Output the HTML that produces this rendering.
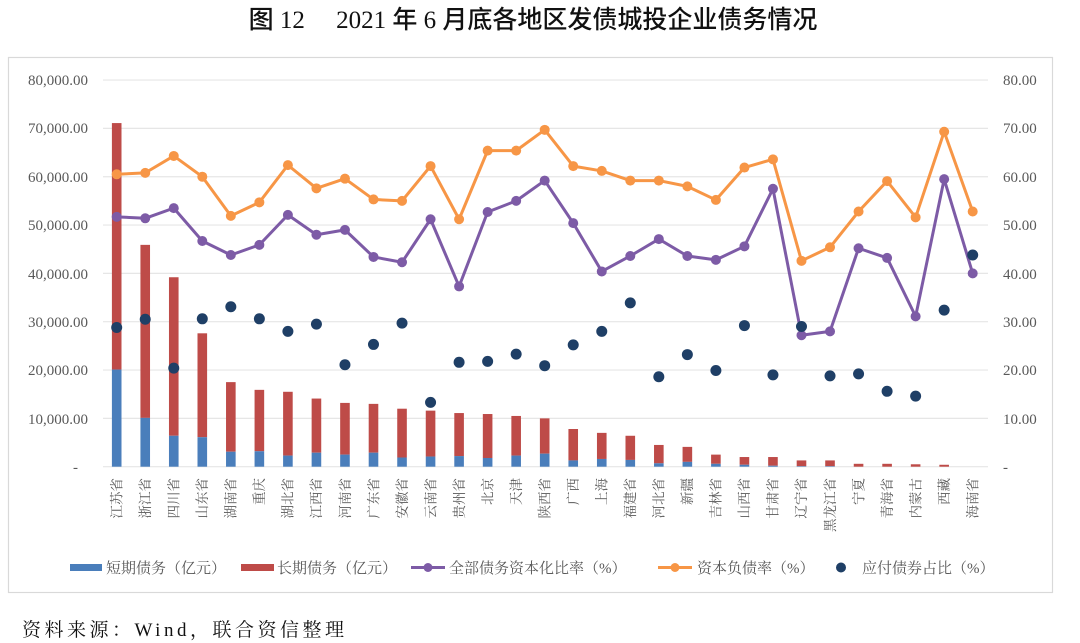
<!DOCTYPE html>
<html><head><meta charset="utf-8">
<style>
html,body{margin:0;padding:0;background:#fff;width:1080px;height:643px;overflow:hidden}
svg{display:block}
.ax{font-family:"Liberation Serif","Noto Serif CJK SC",serif;font-size:15px;fill:#595959}
.lb{font-family:"Liberation Serif","Noto Serif CJK SC",serif;font-size:13.5px;fill:#595959}
.lg{font-family:"Liberation Serif","Noto Serif CJK SC",serif;font-size:15px;fill:#595959}
</style></head><body>
<svg id="s" width="1080" height="643" xmlns="http://www.w3.org/2000/svg">
<text x="533" y="28" text-anchor="middle" style="font-family:'Liberation Serif','Noto Sans CJK SC',sans-serif;font-size:25px;font-weight:500;fill:#111">图 12　 2021 年 6 月底各地区发债城投企业债务情况</text>
<rect x="8.5" y="57.5" width="1044" height="535" fill="none" stroke="#d9d9d9" stroke-width="1.2"/>
<g id="grid"></g>
<g class="ax" text-anchor="end">
<text x="88" y="85">80,000.00</text><text x="88" y="133">70,000.00</text><text x="88" y="182">60,000.00</text><text x="88" y="230">50,000.00</text><text x="88" y="279">40,000.00</text><text x="88" y="327">30,000.00</text><text x="88" y="375">20,000.00</text><text x="88" y="424">10,000.00</text><text x="78" y="472">-</text>
</g>
<g class="ax" text-anchor="start">
<text x="1003" y="85">80.00</text><text x="1003" y="133">70.00</text><text x="1003" y="182">60.00</text><text x="1003" y="230">50.00</text><text x="1003" y="279">40.00</text><text x="1003" y="327">30.00</text><text x="1003" y="375">20.00</text><text x="1003" y="424">10.00</text><text x="1003" y="472">-</text>
</g>
<g id="plot"></g>
<g class="lb" text-anchor="end">
<text transform="translate(121.5,478) rotate(-90)">江苏省</text>
<text transform="translate(150,478) rotate(-90)">浙江省</text>
<text transform="translate(178.6,478) rotate(-90)">四川省</text>
<text transform="translate(207.1,478) rotate(-90)">山东省</text>
<text transform="translate(235.6,478) rotate(-90)">湖南省</text>
<text transform="translate(264.2,478) rotate(-90)">重庆</text>
<text transform="translate(292.7,478) rotate(-90)">湖北省</text>
<text transform="translate(321.2,478) rotate(-90)">江西省</text>
<text transform="translate(349.8,478) rotate(-90)">河南省</text>
<text transform="translate(378.3,478) rotate(-90)">广东省</text>
<text transform="translate(406.8,478) rotate(-90)">安徽省</text>
<text transform="translate(435.3,478) rotate(-90)">云南省</text>
<text transform="translate(463.9,478) rotate(-90)">贵州省</text>
<text transform="translate(492.4,478) rotate(-90)">北京</text>
<text transform="translate(520.9,478) rotate(-90)">天津</text>
<text transform="translate(549.5,478) rotate(-90)">陕西省</text>
<text transform="translate(578,478) rotate(-90)">广西</text>
<text transform="translate(606.5,478) rotate(-90)">上海</text>
<text transform="translate(635.1,478) rotate(-90)">福建省</text>
<text transform="translate(663.6,478) rotate(-90)">河北省</text>
<text transform="translate(692.1,478) rotate(-90)">新疆</text>
<text transform="translate(720.6,478) rotate(-90)">吉林省</text>
<text transform="translate(749.2,478) rotate(-90)">山西省</text>
<text transform="translate(777.7,478) rotate(-90)">甘肃省</text>
<text transform="translate(806.2,478) rotate(-90)">辽宁省</text>
<text transform="translate(834.8,478) rotate(-90)">黑龙江省</text>
<text transform="translate(863.3,478) rotate(-90)">宁夏</text>
<text transform="translate(891.8,478) rotate(-90)">青海省</text>
<text transform="translate(920.4,478) rotate(-90)">内蒙古</text>
<text transform="translate(948.9,478) rotate(-90)">西藏</text>
<text transform="translate(977.4,478) rotate(-90)">海南省</text>
</g>
<g class="lg">
<rect x="70" y="564" width="32" height="7" fill="#4a7ebb"/>
<text x="106" y="573">短期债务（亿元）</text>
<rect x="241" y="564" width="33" height="7" fill="#be4b48"/>
<text x="277" y="573">长期债务（亿元）</text>
<line x1="411" y1="567.5" x2="445" y2="567.5" stroke="#7d5ba6" stroke-width="3"/>
<circle cx="428" cy="567.5" r="4.5" fill="#7d5ba6"/>
<text x="449" y="573">全部债务资本化比率（%）</text>
<line x1="658" y1="567.5" x2="692" y2="567.5" stroke="#f79646" stroke-width="3"/>
<circle cx="675" cy="567.5" r="4.5" fill="#f79646"/>
<text x="697" y="573">资本负债率（%）</text>
<circle cx="841" cy="567.5" r="5" fill="#1f3f66"/>
<text x="862" y="573">应付债券占比（%）</text>
</g>
<text x="22" y="636" style="font-family:'Liberation Serif','Noto Serif CJK SC',serif;font-size:19px;letter-spacing:3.5px;fill:#111">资料来源：Wind，联合资信整理</text>
</svg>
<script>
var NS="http://www.w3.org/2000/svg";
function el(p,t,a){var e=document.createElementNS(NS,t);for(var k in a)e.setAttribute(k,a[k]);p.appendChild(e);return e;}
function Y(v){return 466.7-4.833*v;}
function X(i){return 116.7+28.533*i;}
var g=document.getElementById('grid');
for(var k=0;k<=8;k++){var y=Y(k*10);el(g,'line',{x1:103,x2:988,y1:y,y2:y,stroke:'#e6e6e6','stroke-width':1.2});}
var tot=[71.1,45.9,39.2,27.6,17.5,15.9,15.5,14.1,13.2,13,12,11.6,11.1,10.9,10.5,10,7.8,7,6.4,4.5,4.1,2.5,2,2,1.3,1.3,0.6,0.6,0.5,0.4,0];
var sh=[20.1,10.1,6.4,6.1,3.1,3.2,2.3,2.9,2.5,2.9,1.9,2.1,2.2,1.8,2.3,2.7,1.3,1.6,1.4,0.7,1,0.6,0.4,0.2,0.1,0.1,0,0,0,0,0];
var org=[60.5,60.8,64.3,60,51.9,54.7,62.4,57.6,59.6,55.3,55,62.2,51.2,65.4,65.4,69.7,62.2,61.2,59.2,59.2,58,55.2,61.9,63.6,42.6,45.4,52.8,59.1,51.6,69.3,52.8];
var pur=[51.7,51.4,53.5,46.7,43.8,45.9,52.1,48,49,43.4,42.3,51.2,37.3,52.7,55,59.2,50.4,40.4,43.6,47.1,43.6,42.8,45.6,57.5,27.2,28,45.2,43.2,31.1,59.5,40];
var dot=[28.8,30.5,20.4,30.6,33.1,30.6,28,29.5,21.1,25.3,29.7,13.3,21.6,21.8,23.3,20.9,25.2,28,33.9,18.6,23.2,19.9,29.2,19,29,18.8,19.2,15.6,14.6,32.4,43.8];
var p=document.getElementById('plot');
for(var i=0;i<31;i++){var x=X(i)-4.8;
 if(tot[i]>0)el(p,'rect',{x:x,y:Y(tot[i]),width:9.6,height:Y(sh[i])-Y(tot[i]),fill:'#be4b48'});
 if(sh[i]>0)el(p,'rect',{x:x,y:Y(sh[i]),width:9.6,height:466.7-Y(sh[i]),fill:'#4a7ebb'});}
function line(d,c){var s='';for(var i=0;i<31;i++)s+=X(i)+','+Y(d[i])+' ';
 el(p,'polyline',{points:s,fill:'none',stroke:c,'stroke-width':3,'stroke-linejoin':'round'});
 for(var i=0;i<31;i++)el(p,'circle',{cx:X(i),cy:Y(d[i]),r:5,fill:c});}
line(pur,'#7d5ba6');line(org,'#f79646');
for(var i=0;i<31;i++)el(p,'circle',{cx:X(i),cy:Y(dot[i]),r:5.5,fill:'#1f3f66'});
</script>
</body></html>
